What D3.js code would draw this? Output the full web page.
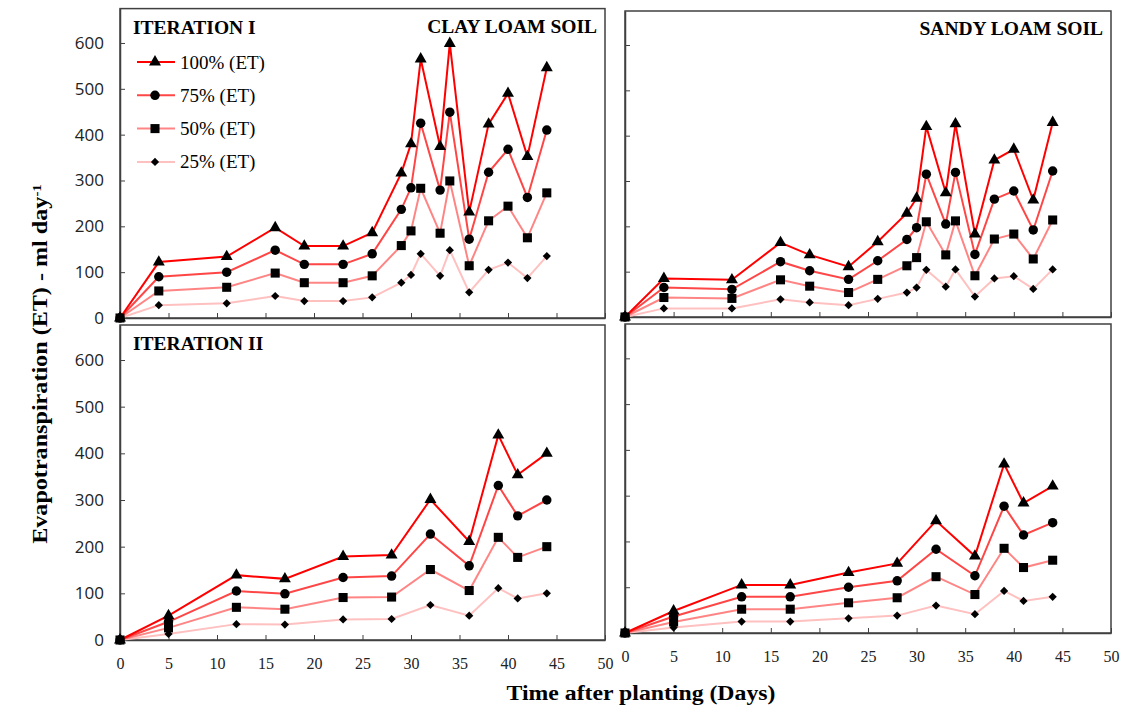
<!DOCTYPE html>
<html>
<head>
<meta charset="utf-8">
<script src="https://cdn.jsdelivr.net/npm/d3@7"></script>
<style>
  body { margin: 0; background: #fff; }
  .axis path, .axis line { stroke: #404040; }
  .ytick text { font-family: "Open Sans", sans-serif; font-size: 17px; fill: #222; }
  .xtick text { font-family: "Liberation Serif", serif; font-size: 16px; fill: #222; }
</style>
</head>
<body>
<svg id="chart" width="1126" height="719"></svg>
<script>
// days of measurement
var topDays    = [0, 4, 11, 16, 19, 23, 26, 29, 30, 31, 33, 34, 36, 38, 40, 42, 44];
var bottomDays = [0, 5, 12, 17, 23, 28, 32, 36, 39, 41, 44];

// iteration I, clay loam
var clayI100 = [0, 122, 134, 197, 157, 157, 186, 316, 380, 565, 374, 599, 231, 423, 490, 352, 546];
var clayI75  = [0, 90, 100, 148, 117, 117, 140, 237, 284, 425, 279, 449, 172, 318, 368, 263, 410];
var clayI50  = [0, 59, 67, 98, 77, 77, 92, 158, 190, 283, 185, 299, 114, 212, 244, 175, 273];
var clayI25  = [0, 28, 32, 48, 37, 37, 45, 77, 94, 140, 92, 148, 56, 105, 121, 87, 135];

// iteration I, sandy loam
var sandyI100 = [0, 85, 82, 164, 137, 111, 166, 229, 262, 420, 274, 426, 183, 346, 370, 258, 429];
var sandyI75  = [0, 65, 61, 122, 102, 83, 124, 171, 197, 315, 205, 319, 138, 260, 278, 192, 322];
var sandyI50  = [0, 43, 41, 82, 68, 54, 83, 113, 131, 210, 137, 212, 91, 172, 183, 128, 214];
var sandyI25  = [0, 19, 19, 39, 32, 26, 40, 54, 65, 104, 67, 105, 45, 85, 90, 62, 105];

// iteration II, clay loam
var clayII100 = [0, 52, 139, 131, 179, 182, 301, 211, 439, 354, 400];
var clayII75  = [0, 39, 105, 99, 134, 137, 227, 159, 331, 266, 300];
var clayII50  = [0, 26, 70, 66, 91, 92, 151, 106, 220, 177, 200];
var clayII25  = [0, 13, 34, 33, 44, 45, 75, 52, 111, 89, 100];

// iteration II, sandy loam
var sandyII100 = [0, 48, 105, 105, 132, 152, 245, 168, 369, 284, 321];
var sandyII75  = [0, 36, 79, 79, 100, 114, 183, 125, 277, 214, 241];
var sandyII50  = [0, 24, 52, 52, 66, 77, 123, 84, 185, 143, 159];
var sandyII25  = [0, 12, 25, 25, 32, 38, 60, 41, 92, 70, 79];

var seriesLabels = ["100% (ET)", "75% (ET)", "50% (ET)", "25% (ET)"];
var yTicks = [0, 100, 200, 300, 400, 500, 600];
var xTicks = [0, 5, 10, 15, 20, 25, 30, 35, 40, 45, 50];

var colors  = ["#ff0000", "#ff4646", "#ff8585", "#ffc0c0"];
// diamond = square turned 45deg
var symbols = [d3.symbolTriangle, d3.symbolCircle, d3.symbolSquare, d3.symbolSquare];
var symSize = [62, 70, 82, 34];
var symRot  = [0, 0, 0, 45];

var svg = d3.select("#chart");

var panels = [
  {days: topDays, series: [clayI100, clayI75, clayI50, clayI25], x0: 120, x1: 605, y0: 318, y1: 8.6,
   yLabels: true, xLabels: false, title: "ITERATION I", soil: "CLAY LOAM SOIL", legend: true},
  {days: topDays, series: [sandyI100, sandyI75, sandyI50, sandyI25], x0: 625, x1: 1111, y0: 317, y1: 11,
   yLabels: false, xLabels: false, soil: "SANDY LOAM SOIL"},
  {days: bottomDays, series: [clayII100, clayII75, clayII50, clayII25], x0: 120, x1: 605, y0: 640, y1: 325,
   yLabels: true, xLabels: true, title: "ITERATION II"},
  {days: bottomDays, series: [sandyII100, sandyII75, sandyII50, sandyII25], x0: 625, x1: 1111, y0: 633, y1: 324,
   yLabels: false, xLabels: true}
];

function marker(sel, s, px, py) {
  sel.append("path")
    .attr("d", d3.symbol().type(symbols[s]).size(symSize[s]))
    .attr("transform", "translate(" + px + "," + py + ") rotate(" + symRot[s] + ")")
    .attr("fill", "#000");
}

panels.forEach(function(p) {
  var x = d3.scaleLinear().domain([0, 50]).range([p.x0, p.x1]);
  var y = d3.scaleLinear().domain([0, 675]).range([p.y0, p.y1]);
  var g = svg.append("g");

  // frame
  g.append("rect")
    .attr("x", p.x0).attr("y", p.y1)
    .attr("width", p.x1 - p.x0).attr("height", p.y0 - p.y1)
    .attr("fill", "none").attr("stroke", "#404040").attr("stroke-width", 1.5);

  var xAxis = d3.axisBottom(x).tickValues(xTicks).tickSizeInner(-5).tickSizeOuter(0).tickPadding(18);
  if (!p.xLabels) xAxis.tickFormat("");
  g.append("g").attr("class", "axis xtick")
    .attr("transform", "translate(0," + p.y0 + ")")
    .call(xAxis);

  var yAxis = d3.axisLeft(y).tickValues(yTicks).tickSizeInner(-5).tickSizeOuter(0).tickPadding(16);
  if (!p.yLabels) yAxis.tickFormat("");
  g.append("g").attr("class", "axis ytick")
    .attr("transform", "translate(" + p.x0 + ",0)")
    .call(yAxis);
  g.selectAll(".axis path").attr("stroke-width", 1.5);

  var line = d3.line()
    .x(function(d, i) { return x(p.days[i]); })
    .y(function(d) { return y(d); });

  // lines, lightest first
  for (var s = 3; s >= 0; s--) {
    g.append("path")
      .attr("d", line(p.series[s]))
      .attr("fill", "none")
      .attr("stroke", colors[s])
      .attr("stroke-width", 2);
  }
  for (var s = 3; s >= 0; s--) {
    p.series[s].forEach(function(v, i) {
      marker(g, s, x(p.days[i]), y(v));
    });
  }

  if (p.title) {
    g.append("text")
      .attr("x", p.x0 + 13).attr("y", p.y1 + 25)
      .attr("font-family", "Liberation Serif, serif").attr("font-weight", "bold")
      .attr("font-size", 19.5).text(p.title);
  }
  if (p.soil) {
    g.append("text")
      .attr("x", p.x1 - 8).attr("y", p.y1 + 24)
      .attr("text-anchor", "end")
      .attr("font-family", "Liberation Serif, serif").attr("font-weight", "bold")
      .attr("font-size", 19.5).text(p.soil);
  }

  if (p.legend) {
    var lg = g.append("g");
    seriesLabels.forEach(function(lab, i) {
      var ly = 62 + i * 33.3;
      lg.append("line")
        .attr("x1", 137).attr("x2", 175).attr("y1", ly).attr("y2", ly)
        .attr("stroke", colors[i]).attr("stroke-width", 2);
      marker(lg, i, 155, ly);
      lg.append("text")
        .attr("x", 180).attr("y", ly + 6.5)
        .attr("font-family", "Liberation Serif, serif")
        .attr("font-size", 19).text(lab);
    });
  }
});

// axis titles
var yl = svg.append("text")
  .attr("transform", "translate(47,364) rotate(-90) scale(1.15,1)")
  .attr("text-anchor", "middle")
  .attr("font-family", "Liberation Serif, serif").attr("font-weight", "bold")
  .attr("font-size", 21);
yl.append("tspan").text("Evapotranspiration (ET) - ml day");
yl.append("tspan").attr("baseline-shift", "super").attr("font-size", 13).text("-1");

svg.append("text")
  .attr("transform", "translate(641,700) scale(1.08,1)")
  .attr("text-anchor", "middle")
  .attr("font-family", "Liberation Serif, serif").attr("font-weight", "bold")
  .attr("font-size", 22)
  .text("Time after planting (Days)");
</script>
</body>
</html>
